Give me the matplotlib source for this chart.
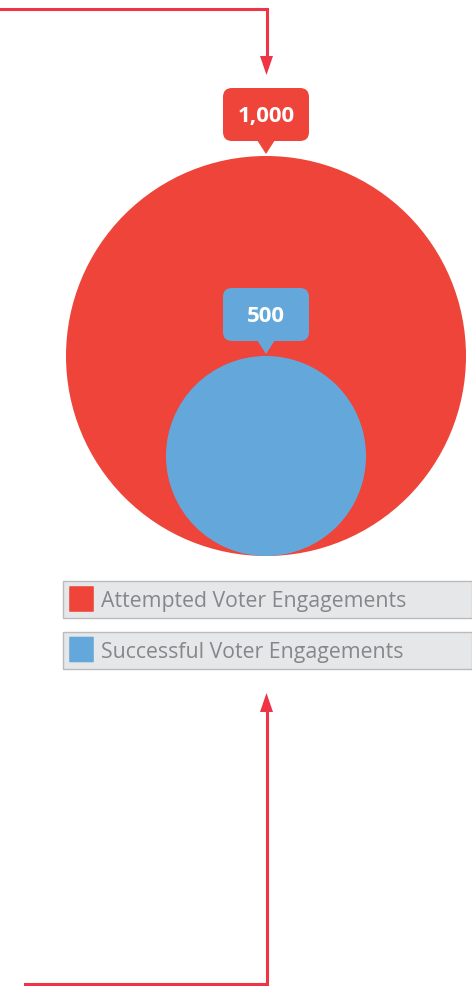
import matplotlib
matplotlib.use("Agg")
import matplotlib.pyplot as plt
from matplotlib.patches import Circle, FancyBboxPatch, Polygon, Rectangle

# ---- data ----
categories = ["Attempted Voter Engagements", "Successful Voter Engagements"]
values = [1000, 500]
value_labels = ["1,000", "500"]
colors = ["#EE4439", "#64A8DB"]

W, H = 472, 986
fig = plt.figure(figsize=(W / 100, H / 100), dpi=100)
ax = fig.add_axes([0, 0, 1, 1])
ax.set_xlim(0, W)
ax.set_ylim(H, 0)
ax.set_aspect("equal")
ax.axis("off")

font = "Open Sans"
arrow_c = "#EE3446"

# nested circles, bottom-aligned, radius proportional to value
cx, base_y, rmax = 266, 556, 200
vmax = max(values)
for v, lab, c in zip(values, value_labels, colors):
    r = v / vmax * rmax
    cy = base_y - r
    ax.add_patch(Circle((cx, cy), r, facecolor=c, edgecolor="none", zorder=2))
    top = cy - r
    bw, bh = 86, 53
    bbot = top - 15
    ax.add_patch(FancyBboxPatch((cx - bw / 2 + 9, bbot - bh + 9), bw - 18, bh - 18,
                                boxstyle="round,pad=9", facecolor=c, edgecolor="none", zorder=3))
    ax.add_patch(Polygon([(cx - 9, bbot - 1), (cx + 9, bbot - 1), (cx, top - 2)],
                         closed=True, facecolor=c, edgecolor="none", zorder=3))
    ax.text(cx, bbot - bh / 2 + 2, lab, ha="center", va="center", color="white",
            fontsize=16, fontweight="bold", family=font, zorder=4)

# legend
for i, (cat, c) in enumerate(zip(categories, colors)):
    y0 = 581 + i * 50.5
    ax.add_patch(Rectangle((62.5, y0), 409, 37, facecolor="#E6E7E8",
                           edgecolor="#B9BBBD", linewidth=1.0, zorder=2))
    ax.add_patch(FancyBboxPatch((70, y0 + 6), 23, 24, boxstyle="round,pad=0.8",
                                facecolor=c, edgecolor="none", zorder=3))
    ax.text(101, y0 + 21, cat, ha="left", va="center", color="#85878A",
            fontsize=15.3, family=font, zorder=4)

# decorative connector arrows
lw = 2.2
ax.plot([0, 266.5, 266.5], [8.5, 8.5, 58], color=arrow_c, lw=lw, solid_joinstyle="miter", zorder=1)
ax.add_patch(Polygon([(260, 56), (273, 56), (266.5, 75)], closed=True, facecolor=arrow_c, edgecolor="none"))
ax.plot([25, 266.5, 266.5], [984, 984, 710], color=arrow_c, lw=lw, solid_joinstyle="miter", zorder=1)
ax.add_patch(Polygon([(260, 712), (273, 712), (266.5, 693)], closed=True, facecolor=arrow_c, edgecolor="none"))

fig.savefig("out.png", dpi=100, facecolor="white")
